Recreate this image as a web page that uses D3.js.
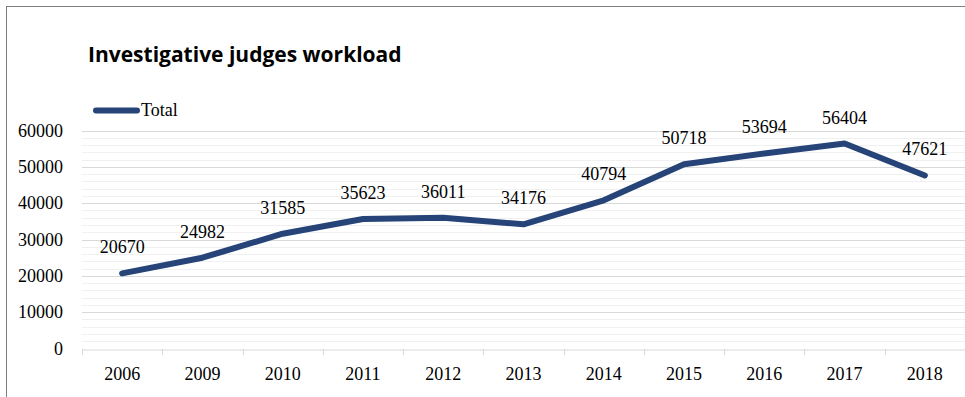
<!DOCTYPE html>
<html>
<head>
<meta charset="utf-8">
<script src="https://cdn.jsdelivr.net/npm/d3@7"></script>
<style>
  html, body { margin: 0; padding: 0; background: #fff; }
  svg { display: block; }
</style>
</head>
<body>
<svg id="chart" width="965" height="397"></svg>
<script>
// Caseload of investigative judges, per year
const years = ["2006", "2009", "2010", "2011", "2012", "2013", "2014", "2015", "2016", "2017", "2018"];
const totals = [20670, 24982, 31585, 35623, 36011, 34176, 40794, 50718, 53694, 56404, 47621];
const yTicks = [0, 10000, 20000, 30000, 40000, 50000, 60000];
const minorStep = 2000;
const seriesName = "Total";
const titleText = "Investigative judges workload";

const W = 965, H = 397;
const margin = { left: 82, right: 0, top: 130.5, bottom: 48.5 };
const svg = d3.select("#chart");
const serif = "'Liberation Serif', 'DejaVu Serif', serif";
const lineColor = "#264478";

// Outer frame
svg.append("rect")
  .attr("x", 6.5).attr("y", 6.5)
  .attr("width", W + 10).attr("height", H + 10)
  .attr("fill", "none").attr("stroke", "#7f7f7f").attr("stroke-width", 1);

const x = d3.scaleBand().domain(years)
  .range([margin.left, W - margin.right]).padding(0);
const y = d3.scaleLinear().domain([0, 60000])
  .range([H - margin.bottom, margin.top]);

// Minor gridlines
const minorVals = d3.range(0, 60000 + 1, minorStep).filter(v => v % 10000 !== 0);
svg.append("g").selectAll("line").data(minorVals).join("line")
  .attr("x1", margin.left).attr("x2", W - margin.right)
  .attr("y1", d => Math.round(y(d)) + 0.5).attr("y2", d => Math.round(y(d)) + 0.5)
  .attr("stroke", "#f0f0f0").attr("stroke-width", 1);

// Major gridlines
svg.append("g").selectAll("line").data(yTicks.filter(v => v > 0)).join("line")
  .attr("x1", margin.left).attr("x2", W - margin.right)
  .attr("y1", d => Math.round(y(d)) + 0.5).attr("y2", d => Math.round(y(d)) + 0.5)
  .attr("stroke", "#d9d9d9").attr("stroke-width", 1);

// Y axis labels
const yAxis = d3.axisLeft(y).tickValues(yTicks).tickSize(0).tickPadding(0).tickFormat(d3.format("d"));
const gy = svg.append("g").attr("transform", `translate(${margin.left - 19},0)`).call(yAxis);
gy.select(".domain").remove();
gy.selectAll("text").attr("font-family", serif).attr("font-size", 18).attr("fill", "#000");

// X axis
const xAxis = d3.axisBottom(x).tickSize(0).tickPadding(18);
const gx = svg.append("g").attr("transform", `translate(0,${Math.round(y(0)) + 0.5})`).call(xAxis);
gx.select(".domain").attr("stroke", "#d9d9d9").attr("stroke-width", 1);
gx.selectAll("text").attr("font-family", serif).attr("font-size", 18).attr("fill", "#000");
// Tick marks at band boundaries
const bounds = years.map(d => x(d)).concat([x(years[years.length - 1]) + x.bandwidth()]);
svg.append("g").selectAll("line").data(bounds).join("line")
  .attr("x1", d => Math.round(d) + 0.5).attr("x2", d => Math.round(d) + 0.5)
  .attr("y1", Math.round(y(0))).attr("y2", Math.round(y(0)) + 6)
  .attr("stroke", "#d9d9d9");

// Series line
const cx = d => x(d) + x.bandwidth() / 2;
const line = d3.line().x((d, i) => cx(years[i])).y(d => y(d));
svg.append("path").datum(totals)
  .attr("d", line)
  .attr("fill", "none").attr("stroke", lineColor)
  .attr("stroke-width", 6).attr("stroke-linecap", "round").attr("stroke-linejoin", "round");

// Value labels
svg.append("g").selectAll("text").data(totals).join("text")
  .attr("x", (d, i) => cx(years[i]))
  .attr("y", d => y(d) - 20)
  .attr("text-anchor", "middle")
  .attr("font-family", serif).attr("font-size", 18).attr("fill", "#000")
  .text(d => d);

// Title
svg.append("text")
  .attr("x", 88).attr("y", 62)
  .attr("font-family", "'Open Sans', sans-serif").attr("font-weight", 700)
  .attr("font-size", 21).attr("fill", "#000")
  .text(titleText);

// Legend
svg.append("line")
  .attr("x1", 96).attr("x2", 137).attr("y1", 110.5).attr("y2", 110.5)
  .attr("stroke", lineColor).attr("stroke-width", 6).attr("stroke-linecap", "round");
svg.append("text")
  .attr("x", 141).attr("y", 116)
  .attr("font-family", serif).attr("font-size", 18).attr("fill", "#000")
  .text(seriesName);
</script>
</body>
</html>
